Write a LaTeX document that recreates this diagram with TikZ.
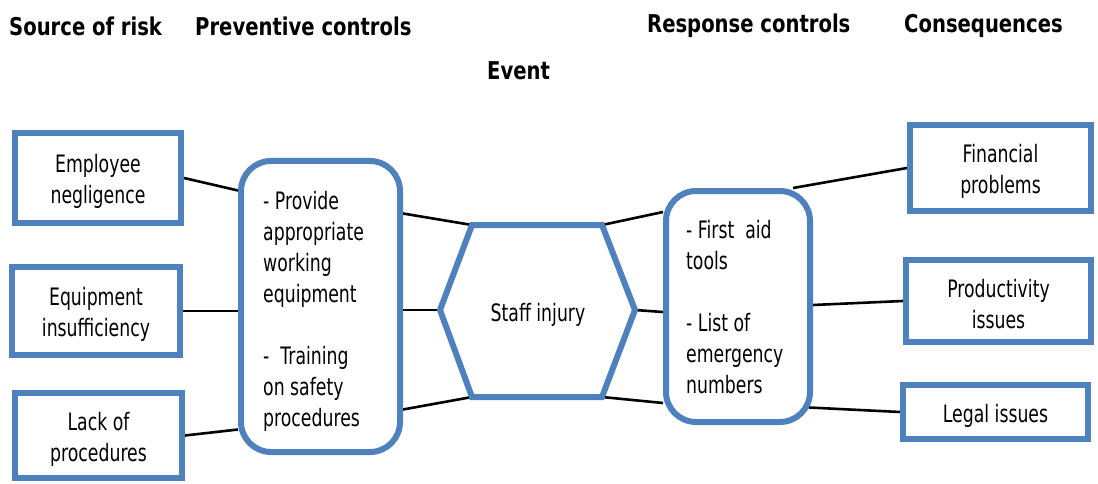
\documentclass[tikz,border=0pt]{standalone}
\usepackage{fontspec}
\setmainfont{DejaVu Sans}[FakeStretch=0.72]
\newfontfamily\headfont{DejaVu Sans}[FakeStretch=0.80]
\usetikzlibrary{backgrounds}
\definecolor{bblue}{HTML}{4F81BD}
\tikzset{
  every node/.style={font=\fontsize{24}{31}\selectfont, inner sep=0pt},
  box/.style={draw=bblue, line width=6pt, fill=white},
  btext/.style={align=center, yshift=-3.5pt},
  rbox/.style={draw=bblue, line width=6pt, fill=white, rounded corners=30pt},
  head/.style={anchor=west, font=\headfont\fontsize{24.5}{31}\selectfont\bfseries},
  conn/.style={draw=black, line width=2.6pt},
}
\begin{document}
\begin{tikzpicture}[x=1pt,y=-1pt]
\useasboundingbox (0,0) rectangle (1098,484);
% headers
\node[head] (h1) at (9,26) {Source of risk};
\node[head] (h2) at (195,26) {Preventive controls};
\node[head] (h3) at (647,26) {Response controls};
\node[head] (h4) at (904,26) {Consequences};
\node[head] (h5) at (487,71) {Event};
% source boxes
\node[box, minimum width=166pt, minimum height=90pt] (emp) at (98,178) {};
\node[btext] (empt) at (emp.center) {Employee\\negligence};
\node[box, minimum width=168pt, minimum height=88pt] (equ) at (96,311) {};
\node[btext] (equt) at (equ.center) {Equipment\\insufficiency};
\node[box, minimum width=167pt, minimum height=85pt] (lack) at (98.5,435.5) {};
\node[btext] (lackt) at (lack.center) {Lack of\\procedures};
% preventive
\node[rbox, minimum width=159pt, minimum height=291pt] (prev) at (320.5,306.5) {};
\node[anchor=north west, align=left] (prevtxt) at (263,191) {- Provide\\appropriate\\working\\equipment\\[31pt]-~~Training\\on safety\\procedures};
% hexagon
\coordinate (hL) at (440,310);
\coordinate (hTL) at (472,225);
\coordinate (hTR) at (602,225);
\coordinate (hR) at (635,310);
\coordinate (hBR) at (602,397);
\coordinate (hBL) at (472,397);
\draw[bblue, line width=6pt, line join=miter, fill=white] (hL) -- (hTL) -- (hTR) -- (hR) -- (hBR) -- (hBL) -- cycle;
\node (event) at (538,315) {Staff injury};
% response
\node[rbox, minimum width=144pt, minimum height=231pt] (resp) at (738,306.5) {};
\node[anchor=north west, align=left] (resptxt) at (686,220) {- First~~aid\\tools\\[31pt]- List of\\emergency\\numbers};
% consequences
\node[box, minimum width=181pt, minimum height=86pt] (fin) at (1000.5,168) {};
\node[btext] (fint) at (fin.center) {Financial\\problems};
\node[box, minimum width=185pt, minimum height=82pt] (prod) at (998.5,301) {};
\node[btext] (prodt) at (prod.center) {Productivity\\issues};
\node[box, minimum width=185pt, minimum height=54pt] (legal) at (995.5,412) {};
\node[btext] (legalt) at (legal.center) {Legal issues};
% connectors
\begin{scope}[on background layer]
\draw[conn] (emp.east) -- ([yshift=116pt]prev.west);
\draw[conn] (equ.east) -- (prev.west |- equ.east);
\draw[conn] (lack.east) -- ([yshift=-123pt]prev.west);
\draw[conn] ([yshift=93pt]prev.east) -- (hTL);
\draw[conn] (prev.east |- hL) -- (hL);
\draw[conn] ([yshift=-103pt]prev.east) -- (hBL);
\draw[conn] (hTR) -- ([yshift=94.5pt]resp.west);
\draw[conn] (hR) -- ([yshift=-5.5pt]resp.west);
\draw[conn] (hBR) -- ([yshift=-96.5pt]resp.west);
\draw[conn] ([xshift=55pt]resp.north) -- (fin.west);
\draw[conn] ([yshift=1.5pt]resp.east) -- (prod.west);
\draw[conn] ([yshift=-101pt,xshift=-4pt]resp.east) -- (legal.west);
\end{scope}
\end{tikzpicture}
\end{document}
